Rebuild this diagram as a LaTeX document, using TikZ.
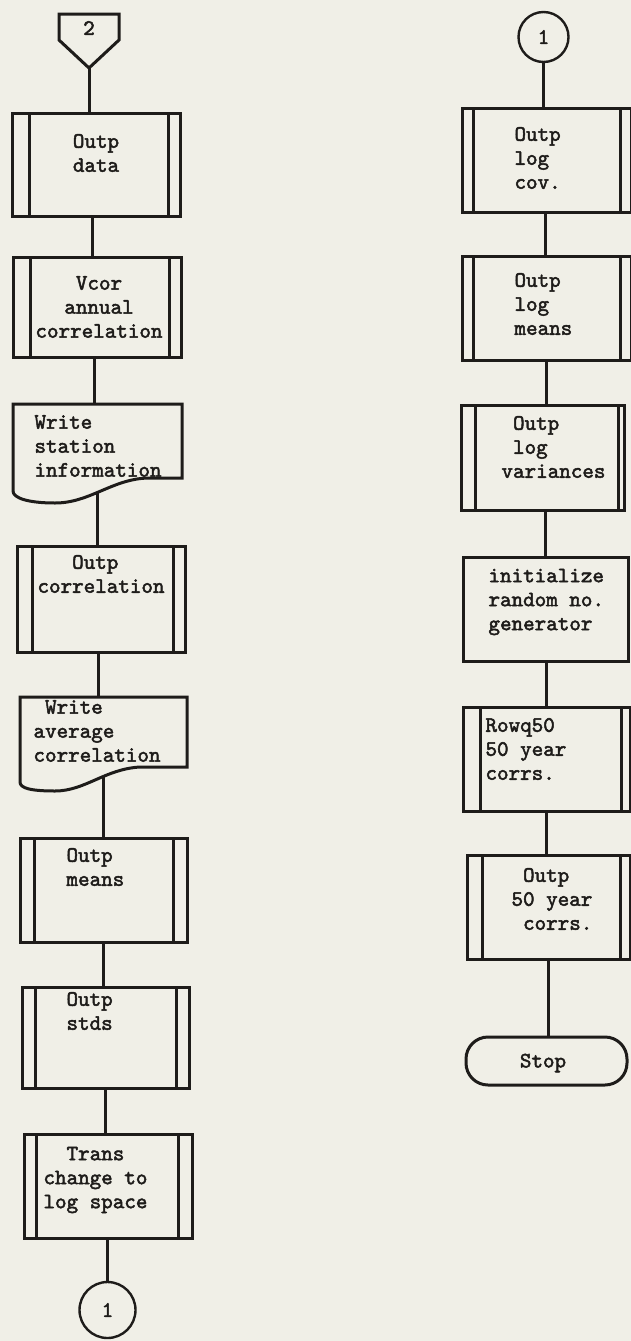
\documentclass[tikz,border=0pt]{standalone}
\usepackage{fontspec}
\usetikzlibrary{backgrounds}
\newfontfamily\typewriter{lmmono10-regular.otf}[FakeBold=2.2]
\definecolor{paper}{RGB}{240,239,231}
\definecolor{ink}{RGB}{30,28,26}
% predefined-process box: outer frame plus the two inner stripe lines
\newcommand\procbox[7]{%
  \node[box, minimum width={(#4-#2)*1pt}, minimum height={(#5-#3)*1pt}]
    (#1) at ({(#2+#4)/2},{(#3+#5)/2}) {};
  \draw (#6,#3) -- (#6,#5) (#7,#3) -- (#7,#5);}
\begin{document}
\begin{tikzpicture}[x=1pt,y=-1pt,line width=3pt,draw=ink,
  every node/.style={font=\fontsize{22}{24}\selectfont\typewriter, text=ink},
  box/.style={draw=ink, fill=paper, rectangle, inner sep=0pt, outer sep=0pt},
  holder/.style={rectangle, inner sep=0pt, outer sep=0pt, anchor=north west},
  lbl/.style={inner sep=0pt, align=left, anchor=west},
  clbl/.style={inner sep=0pt, align=center},
  flow/.style={draw=ink, line width=3pt},
  conn/.style={circle, draw=ink, fill=paper, inner sep=0pt, outer sep=0pt, line width=2.4pt}]
\useasboundingbox (0,0) rectangle (631,1341);

% ---------------- left column ----------------
% off-page connector 2
\draw[fill=paper, line join=miter] (59,14) -- (119,14) -- (119,40) -- (89,68) -- (59,40) -- cycle;
\node (off2) at (89,28) {2};
\coordinate (off2tip) at (89.5,68);

\procbox{data}{12}{113}{180}{216}{29}{168}
\node[clbl] (datat) at (96,153) {Outp\\data};

\procbox{vcor}{13}{257}{181}{357}{30}{169}
\node[clbl] (vcort) at (99,307) {Vcor\\annual\\correlation};

% document: station information
\node[holder, minimum width=169pt, minimum height=99pt] (doc1) at (13,404) {};
\draw[fill=paper] (13,404) -- (182,404) -- (182,478) -- (148,478)
  .. controls (112,479) and (90,503) .. (55,503)
  .. controls (28,503) and (13,498) .. (13,491) -- cycle;
\node[lbl] (doc1t) at (33,446) {Write\\station\\information};

\procbox{corr}{17}{546}{185}{652}{32}{173}
\node[lbl] (corrt) at (36,574) {\phantom{xxx}Outp\\correlation};

% document: average correlation
\node[holder, minimum width=167pt, minimum height=94pt] (doc2) at (20,697) {};
\draw[fill=paper] (20,697) -- (187,697) -- (187,767) -- (140,767)
  .. controls (105,769) and (85,791) .. (55,791)
  .. controls (30,791) and (20,788) .. (20,782) -- cycle;
\node[lbl] (doc2t) at (32,731) {\phantom{x}Write\\average\\correlation};

\procbox{means}{20}{838}{187}{942}{34}{173}
\node[lbl] (meanst) at (65,867) {Outp\\means};

\procbox{stds}{22}{987}{189}{1088}{35}{176}
\node[lbl] (stdst) at (65,1011) {Outp\\stds};

\procbox{trans}{24}{1134}{192}{1238}{36}{178}
\node[lbl] (transt) at (42,1180) {\phantom{xx}Trans\\change to\\log space};

\node[conn, minimum size=56pt] (c1l) at (107.5,1310) {1};

% ---------------- right column ----------------
\node[conn, minimum size=50pt] (c1r) at (543.5,37) {1};

\procbox{cov}{462}{108}{631}{212}{473}{620}
\node[lbl] (covt) at (513,158) {Outp\\log\\cov.};

\procbox{lmeans}{462}{256}{631}{360}{473}{620}
\node[lbl] (lmeanst) at (513,304) {Outp\\log\\means};

\procbox{lvar}{461}{405}{624}{510}{475}{618}
\node[lbl] (lvart) at (500,447) {\phantom{x}Outp\\\phantom{x}log\\variances};

\node[box, minimum width=165pt, minimum height=104pt] (init) at (545.5,609) {};
\node[lbl] (initt) at (487,602) {initialize\\random no.\\generator};

\procbox{rowq}{463}{707}{630}{811}{480}{621}
\node[lbl] (rowqt) at (484,749) {Rowq50\\50 year\\corrs.};

\procbox{o50}{467}{855}{630}{959}{482}{620}
\node[lbl] (o50t) at (510,899) {\phantom{x}Outp\\50 year\\\phantom{x}corrs.};

\node[box, rounded corners=22pt, minimum width=161pt, minimum height=48pt] (stop) at (546.5,1061) {};
\node[clbl] (stopt) at (543,1063) {Stop};

% ---------------- flow lines (behind the symbols) ----------------
\begin{pgfonlayer}{background}
  \fill[paper] (0,0) rectangle (631,1341);
  \draw[flow] (off2tip) -- (off2tip |- data.north);
  \draw[flow] ([xshift=-3.5pt]data.south) -- ([xshift=-3.5pt]data.south |- vcor.north);
  \draw[flow] ([xshift=-2.5pt]vcor.south) -- ([xshift=-2.5pt]vcor.south |- doc1.north);
  \draw[flow] (doc1.center) -- (doc1.center |- corr.north);
  \draw[flow] ([xshift=-2.5pt]corr.south) -- ([xshift=-2.5pt]corr.south |- doc2.north);
  \draw[flow] (doc2.center) -- (doc2.center |- means.north);
  \draw[flow] (means.south) -- (means.south |- stds.north);
  \draw[flow] (stds.south) -- (stds.south |- trans.north);
  \draw[flow] (c1l.north) -- (c1l.north |- trans.south);
  \draw[flow] (c1r.south) -- (c1r.south |- cov.north);
  \draw[flow] ([xshift=-1pt]cov.south) -- ([xshift=-1pt]cov.south |- lmeans.north);
  \draw[flow] (lmeans.south) -- (lmeans.south |- lvar.north);
  \draw[flow] (init.north) -- (init.north |- lvar.south);
  \draw[flow] (rowq.north) -- (rowq.north |- init.south);
  \draw[flow] (rowq.south) -- (rowq.south |- o50.north);
  \draw[flow] (o50.south) -- (o50.south |- stop.north);
\end{pgfonlayer}
\end{tikzpicture}
\end{document}
